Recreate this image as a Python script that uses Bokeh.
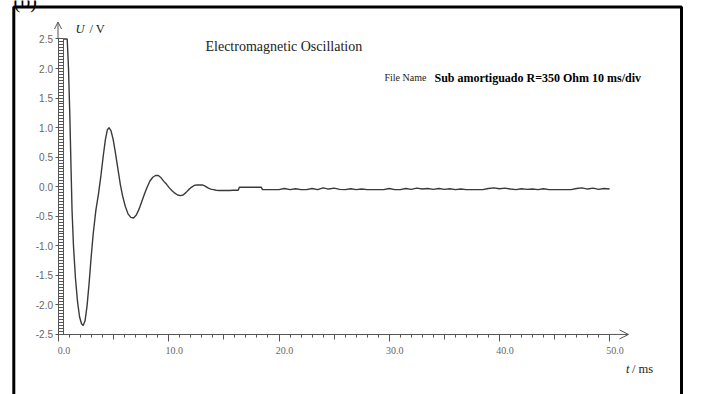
from bokeh.plotting import figure
from bokeh.models import (LinearAxis, SingleIntervalTicker, FixedTicker, Range1d, Label,
                          LabelSet, ColumnDataSource, Arrow, OpenHead, BoxAnnotation,
                          PrintfTickFormatter)
from bokeh.embed import file_html
from bokeh.resources import INLINE

# Recorded damped oscillation: time (ms) and capacitor voltage (V)
t_ms = [
    0.47, 0.78, 0.90, 1.02, 1.13, 1.22, 1.35, 1.53, 1.72, 1.90, 2.08, 2.23,
    2.40, 2.58, 2.76, 2.95, 3.15, 3.38, 3.62, 3.85, 4.05, 4.25, 4.42, 4.57,
    4.75, 4.95, 5.15, 5.35, 5.60, 5.80, 6.05, 6.30, 6.55, 6.80,
    7.05, 7.30, 7.55, 7.80, 8.05, 8.30, 8.55, 8.80, 9.05, 9.30, 9.55, 9.80,
    10.05, 10.30, 10.55, 10.80, 11.05, 11.30, 11.55, 11.80, 12.05, 12.30, 12.55,
    12.80, 13.05, 13.30, 13.55, 13.80, 14.05, 14.30, 14.60, 14.90, 15.20, 15.50,
    15.80, 16.30, 16.40, 18.40, 18.50,
    19.0, 19.5, 20.0, 20.5, 21.0, 21.5, 22.0, 22.5, 23.0, 23.5, 24.0, 24.5,
    25.0, 25.5, 26.0, 26.5, 27.0, 27.5, 28.0, 28.5, 29.0, 29.5, 30.0, 30.5,
    31.0, 31.5, 32.0, 32.5, 33.0, 33.5, 34.0, 34.5, 35.0, 35.5, 36.0, 36.5,
    37.0, 37.5, 38.0, 38.5, 39.0, 39.5, 40.0, 40.5, 41.0, 41.5, 42.0, 42.5,
    43.0, 43.5, 44.0, 44.5, 45.0, 45.5, 46.0, 46.5, 47.0, 47.5, 48.0, 48.5,
    49.0, 49.5, 50.0,
]
u_volt = [
    2.50, 2.50, 2.00, 1.20, 0.30, -0.40, -1.00, -1.55, -1.95, -2.20, -2.32, -2.35,
    -2.27, -2.02, -1.65, -1.20, -0.78, -0.40, -0.12, 0.20, 0.52, 0.80, 0.96, 1.00,
    0.95, 0.80, 0.58, 0.34, 0.04, -0.15, -0.33, -0.46, -0.52, -0.53,
    -0.48, -0.38, -0.25, -0.12, 0.00, 0.10, 0.16, 0.19, 0.19, 0.15, 0.09, 0.04,
    -0.02, -0.07, -0.11, -0.14, -0.15, -0.14, -0.10, -0.05, -0.01, 0.02, 0.03,
    0.03, 0.03, 0.01, -0.02, -0.04, -0.05, -0.06, -0.065, -0.065, -0.065, -0.065,
    -0.06, -0.06, -0.01, -0.01, -0.05,
    -0.05, -0.05, -0.05, -0.03, -0.05, -0.035, -0.05, -0.05, -0.03, -0.05, -0.02, -0.04,
    -0.025, -0.045, -0.05, -0.035, -0.05, -0.04, -0.05, -0.05, -0.05, -0.05, -0.03, -0.05,
    -0.05, -0.03, -0.045, -0.025, -0.04, -0.03, -0.045, -0.03, -0.045, -0.035, -0.05, -0.04,
    -0.05, -0.05, -0.05, -0.05, -0.03, -0.02, -0.035, -0.025, -0.04, -0.05, -0.035, -0.045,
    -0.04, -0.05, -0.035, -0.05, -0.05, -0.05, -0.05, -0.05, -0.03, -0.02, -0.04, -0.025,
    -0.045, -0.03, -0.04,
]

x_ticks = [0, 10, 20, 30, 40, 50]
x_tick_labels = ["0.0", "10.0", "20.0", "30.0", "40.0", "50.0"]
x_half_ticks = [5, 15, 25, 35, 45]
U_MIN, U_MAX = -2.5, 2.5

# Screen layout of the scope display (pixels) and the helpers that map it to data units
W, H = 701, 394
ORIGIN_X, ORIGIN_Y = 58.1, 186.2
PX_PER_MS, PX_PER_V = 11.02, 59.1


def tx(px):
    return (px - ORIGIN_X) / PX_PER_MS


def uy(py):
    return (ORIGIN_Y - py) / PX_PER_V


AXIS_COLOR = "#555555"
LABEL_COLOR = "#666666"
SERIF = "Liberation Serif"
SANS = "Liberation Sans"

p = figure(width=W, height=H, x_range=Range1d(tx(0), tx(W)), y_range=Range1d(uy(H), uy(0)),
           x_axis_type=None, y_axis_type=None, toolbar_location=None,
           output_backend="svg", min_border=0)
p.outline_line_color = None
p.background_fill_color = "white"
p.border_fill_color = "white"

# frame around the whole panel
p.add_layout(BoxAnnotation(left=tx(13.3), right=tx(681), top=uy(6.5), bottom=uy(H + 30),
                           fill_color=None, fill_alpha=0, line_color="black",
                           line_alpha=1.0, line_width=3))

# time axis with 1 ms minor ticks
xax = LinearAxis(fixed_location=U_MIN, bounds=(tx(57), 50),
                 ticker=SingleIntervalTicker(interval=10, num_minor_ticks=10),
                 major_tick_in=0, major_tick_out=7, minor_tick_in=0, minor_tick_out=3,
                 axis_line_color=AXIS_COLOR, major_tick_line_color=AXIS_COLOR,
                 minor_tick_line_color=AXIS_COLOR, major_label_text_color=None)
p.add_layout(xax, "below")

xmid = LinearAxis(fixed_location=U_MIN, ticker=FixedTicker(ticks=x_half_ticks, minor_ticks=[]),
                  major_tick_in=0, major_tick_out=5, axis_line_color=None,
                  major_tick_line_color=AXIS_COLOR, minor_tick_line_color=None,
                  major_label_text_color=None)
p.add_layout(xmid, "below")

p.add_layout(Arrow(end=OpenHead(size=9, line_color=AXIS_COLOR, line_width=1),
                   x_start=50, y_start=U_MIN, x_end=tx(628), y_end=U_MIN,
                   line_color=AXIS_COLOR, line_width=1))

x_src = ColumnDataSource(dict(x=x_ticks, y=[uy(350)] * len(x_ticks), text=x_tick_labels))
p.add_layout(LabelSet(x="x", y="y", text="text", source=x_src, x_offset=5.5,
                      text_align="center", text_baseline="middle",
                      text_font=SANS, text_font_size="10px", text_color=LABEL_COLOR))

# voltage axis drawn as a ruler with 0.05 V rungs
yax = LinearAxis(fixed_location=tx(57.5), bounds=(U_MIN, U_MAX),
                 ticker=SingleIntervalTicker(interval=0.5, num_minor_ticks=10),
                 formatter=PrintfTickFormatter(format="%.1f"),
                 major_tick_in=5, major_tick_out=3, minor_tick_in=5, minor_tick_out=0,
                 axis_line_color=AXIS_COLOR, major_tick_line_color=AXIS_COLOR,
                 minor_tick_line_color=AXIS_COLOR, major_label_standoff=2,
                 major_label_text_font=SANS, major_label_text_font_size="10px",
                 major_label_text_color=LABEL_COLOR)
p.add_layout(yax, "left")

rail = LinearAxis(fixed_location=tx(62.7), bounds=(U_MIN, U_MAX),
                  ticker=FixedTicker(ticks=[], minor_ticks=[]),
                  axis_line_color=AXIS_COLOR, major_tick_line_color=None,
                  minor_tick_line_color=None, major_label_text_color=None)
p.add_layout(rail, "left")

p.add_layout(Arrow(end=OpenHead(size=7, line_color=AXIS_COLOR, line_width=1),
                   x_start=tx(57.5), y_start=U_MAX, x_end=tx(57.5), y_end=uy(21.5),
                   line_color=AXIS_COLOR, line_width=1))

# measured trace
p.line(t_ms, u_volt, line_color="#3a3a3a", line_width=1.4)


# texts
def add_text(px, py, text, size, style="normal", font=SERIF, color="#222222",
             align="left", baseline="middle"):
    p.add_layout(Label(x=tx(px), y=uy(py), text=text, text_font=font,
                       text_font_size=size, text_font_style=style, text_color=color,
                       text_align=align, text_baseline=baseline))


add_text(13, 0.5, "(b)", "20px", color="black", baseline="alphabetic")
add_text(75, 28, "U", "12.5px", style="italic")
add_text(89, 28, "/ V", "12.5px")
add_text(625.5, 368, "t", "12.5px", style="italic")
add_text(631.5, 368, "/ ms", "12.5px")
add_text(205, 46, "Electromagnetic Oscillation", "14px")
add_text(384, 77, "File Name", "10px")
add_text(434, 77, "Sub amortiguado R=350 Ohm 10 ms/div", "12px", style="bold", color="black")

open("out.html", "w").write(file_html(p, INLINE))
